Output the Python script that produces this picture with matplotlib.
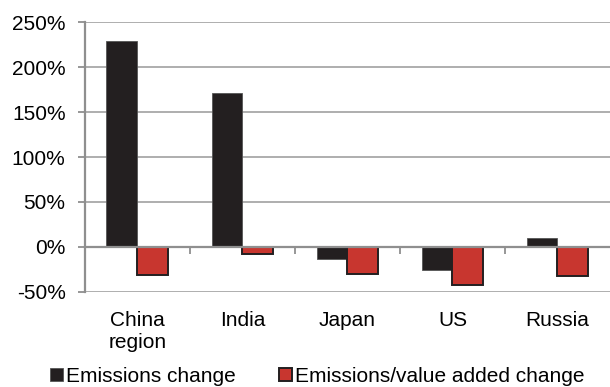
import numpy as np
import matplotlib.pyplot as plt
from matplotlib.ticker import FuncFormatter, FixedLocator

plt.rcParams["font.family"] = ["Liberation Sans", "DejaVu Sans"]
plt.rcParams["font.size"] = 15

regions = ["China\nregion", "India", "Japan", "US", "Russia"]
emissions_change = [229, 171, -14, -26, 10]
intensity_change = [-31, -8, -30, -43, -33]

BLACK = "#231f20"
RED = "#c8362f"
GRID = "#a8a8a8"
AXIS = "#8f8f8f"

fig = plt.figure(figsize=(6.10, 3.87), dpi=100)
ax = fig.add_axes([0.1393, 0.2462, 0.8607, 0.6962])

x = np.arange(len(regions))
width = 0.295
ax.bar(x - width / 2, emissions_change, width, color=BLACK,
       edgecolor="#555555", linewidth=0.6, label="Emissions change", zorder=3)
ax.bar(x + width / 2, intensity_change, width, color=RED,
       edgecolor=BLACK, linewidth=1.4, label="Emissions/value added change", zorder=3)

ax.set_xlim(-0.5, len(regions) - 0.5)
ax.set_ylim(-50, 250)
ax.set_yticks(np.arange(-50, 251, 50))
ax.yaxis.set_major_formatter(FuncFormatter(lambda v, _: f"{v:.0f}%"))
ax.grid(axis="y", color=GRID, linewidth=1.3, zorder=0)
ax.set_axisbelow(True)

# category axis crosses at zero, labels sit below the plot area
for side in ["top", "right"]:
    ax.spines[side].set_visible(False)
ax.spines["bottom"].set_position(("data", 0))
ax.spines["bottom"].set_color(AXIS)
ax.spines["bottom"].set_linewidth(1.6)
ax.spines["bottom"].set_zorder(4)
ax.spines["left"].set_color(AXIS)
ax.spines["left"].set_linewidth(1.6)

ax.set_xticks(x)
ax.set_xticklabels(regions, linespacing=1.2)
ax.tick_params(axis="x", which="major", length=0, pad=46)
ax.xaxis.set_minor_locator(FixedLocator(x[:-1] + 0.5))
ax.tick_params(axis="x", which="minor", length=5, width=1.3, color=AXIS, direction="out")
ax.tick_params(axis="y", length=5, width=1.3, color=AXIS, pad=9)

fig.legend(loc="lower center", bbox_to_anchor=(0.52, -0.018), ncol=2, frameon=False,
           handlelength=0.62, handleheight=0.62, handletextpad=0.15, columnspacing=2.1,
           borderaxespad=0)

fig.savefig("out.png", dpi=100)
